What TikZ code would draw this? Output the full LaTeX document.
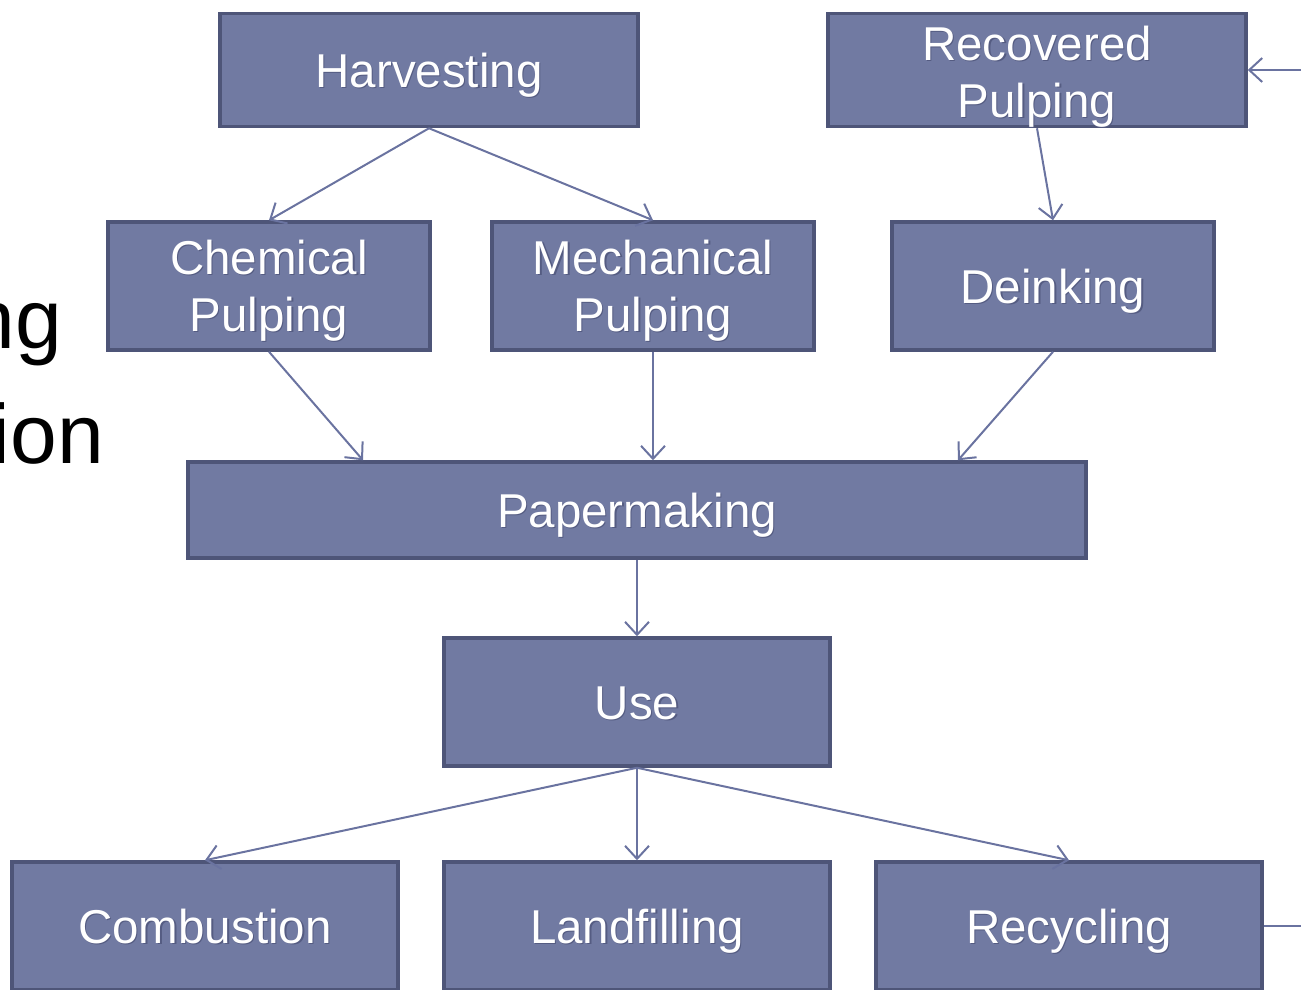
\documentclass[tikz,border=0pt]{standalone}
\usepackage{fontspec}
\setmainfont{Liberation Sans}
\usetikzlibrary{arrows.meta,calc}
\definecolor{boxfill}{HTML}{717AA2}
\definecolor{boxborder}{HTML}{4E5578}
\definecolor{connc}{HTML}{6A73A0}
\definecolor{txtshadow}{HTML}{555C82}
\newcommand\shtx[1]{\leavevmode\rlap{\kern1.2pt\raisebox{-1.2pt}{\color{txtshadow}#1}}#1}
\tikzset{
  box/.style={draw=boxborder, line width=3.5pt, fill=boxfill, text=white,
    inner sep=0pt, align=center, text height=34pt, text depth=0pt,
    font=\fontsize{47.5}{57}\selectfont},
  twoline/.style={text height=91pt, text depth=0pt},
  conn/.style={draw=connc, line width=2pt,
    -{Straight Barb[length=13pt,width=24pt,line width=2pt]}},
  plainline/.style={draw=connc, line width=2pt},
  sidetext/.style={text=black, inner sep=0pt, anchor=base east,
    font=\fontsize{84}{100}\selectfont}
}
\begin{document}
\begin{tikzpicture}[x=1pt,y=-1pt]
\useasboundingbox (0,0) rectangle (1301,989);
% side text (cut off at left)
\node[sidetext] (t1) at (62,348) {ng};
\node[sidetext] (t2) at (104,463) {ion};
% boxes
\node[box, minimum width=418pt, minimum height=113pt] (harv) at (429,70) {\shtx{Harvesting}};
\node[box, twoline, text height=95pt, minimum width=418pt, minimum height=113pt] (rec) at (1037,70) {\shtx{Recovered}\\\shtx{Pulping}};
\node[box, twoline, minimum width=322pt, minimum height=128pt] (chem) at (269,286) {\shtx{Chemical}\\\shtx{Pulping}};
\node[box, twoline, minimum width=322pt, minimum height=128pt] (mech) at (653,286) {\shtx{Mechanical}\\\shtx{Pulping}};
\node[box, minimum width=322pt, minimum height=128pt] (dein) at (1053,286) {\shtx{Deinking}};
\node[box, minimum width=898pt, minimum height=96pt] (paper) at (637,510) {\shtx{Papermaking}};
\node[box, minimum width=386pt, minimum height=128pt] (use) at (637,702) {\shtx{Use}};
\node[box, minimum width=386pt, minimum height=128pt] (comb) at (205,926) {\shtx{Combustion}};
\node[box, minimum width=386pt, minimum height=128pt] (land) at (637,926) {\shtx{Landfilling}};
\node[box, minimum width=386pt, minimum height=128pt] (recy) at (1069,926) {\shtx{Recycling}};
% free ends at the right edge
\coordinate (rin) at (1301,70);
\coordinate (rout) at (1301,926);
% connectors
\draw[conn] (harv.south) -- (chem.north);
\draw[conn] (harv.south) -- (mech.north);
\draw[conn] (rec.south) -- (dein.north);
\draw[conn] (chem.south) -- ([xshift=-274pt]paper.north);
\draw[conn] (mech.south) -- (mech.south |- paper.north);
\draw[conn] (dein.south) -- ([xshift=321pt]paper.north);
\draw[conn] (paper.south) -- (use.north);
\draw[conn] (use.south) -- (comb.north);
\draw[conn] (use.south) -- (land.north);
\draw[conn] (use.south) -- (recy.north);
\draw[conn] (rin) -- (rec.east);
\draw[plainline] (recy.east) -- (rout);
\end{tikzpicture}
\end{document}
